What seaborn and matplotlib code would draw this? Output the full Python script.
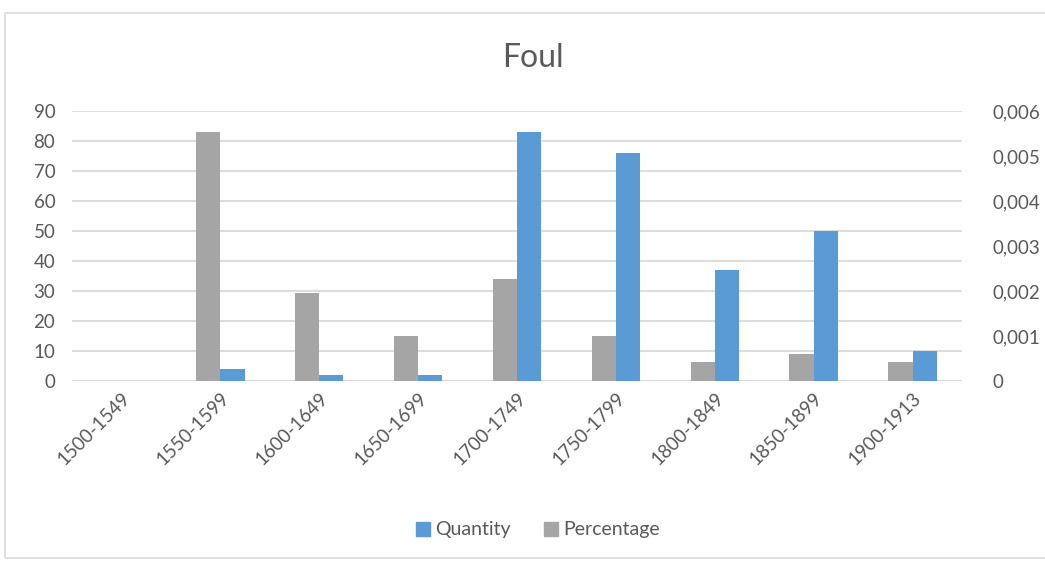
import numpy as np
import pandas as pd
import matplotlib
matplotlib.use("Agg")
import matplotlib.pyplot as plt
from matplotlib.patches import Patch, Rectangle
from matplotlib.ticker import FuncFormatter
import seaborn as sns

periods = ["1500-1549", "1550-1599", "1600-1649", "1650-1699", "1700-1749",
           "1750-1799", "1800-1849", "1850-1899", "1900-1913"]
quantity = [0, 4, 2, 2, 83, 76, 37, 50, 10]
percentage = [0, 0.00553, 0.00196, 0.00101, 0.00226, 0.00101, 0.00042, 0.00060, 0.00042]

BLUE = "#5B9BD5"
GRAY = "#A5A5A5"
TXT = "#595959"
GRID = "#D9D9D9"

sns.set_style("white")
plt.rcParams["font.family"] = ["Lato", "DejaVu Sans"]

# each axis gets both hue levels so the dodge slots line up; the other series is 0 there
df = pd.concat([
    pd.DataFrame({"period": periods, "series": "Percentage",
                  "q": 0.0, "p": percentage}),
    pd.DataFrame({"period": periods, "series": "Quantity",
                  "q": quantity, "p": 0.0}),
])
order = ["Percentage", "Quantity"]
pal = {"Percentage": GRAY, "Quantity": BLUE}

fig = plt.figure(figsize=(10.45, 5.62), dpi=100)
ax = fig.add_axes([72 / 1045, 1 - 381 / 562, 890 / 1045, 270 / 562])
ax2 = ax.twinx()

sns.barplot(data=df, x="period", y="q", hue="series", hue_order=order,
            palette=pal, width=0.49, dodge=True, ax=ax, legend=False,
            linewidth=0, errorbar=None, saturation=1)
sns.barplot(data=df, x="period", y="p", hue="series", hue_order=order,
            palette=pal, width=0.49, dodge=True, ax=ax2, legend=False,
            linewidth=0, errorbar=None, saturation=1)

ax.set_ylim(0, 90)
ax.set_yticks(range(0, 91, 10))
ax2.set_ylim(0, 0.006)
ax2.set_yticks(np.linspace(0, 0.006, 7))
ax2.yaxis.set_major_formatter(FuncFormatter(
    lambda v, _: "0" if abs(v) < 1e-12 else f"{v:.3f}".replace(".", ",")))

ax.set_zorder(ax2.get_zorder() + 1)
ax.patch.set_visible(False)
ax2.set_axisbelow(True)
ax2.yaxis.grid(False)
for y in range(10, 91, 10):
    ax2.axhline(y / 15000, color=GRID, lw=1.3, zorder=0)
ax2.axhline(0, color=GRID, lw=1.6, zorder=0)

for a in (ax, ax2):
    for s in a.spines.values():
        s.set_visible(False)
    a.set_xlabel("")
    a.set_ylabel("")
    a.tick_params(length=0, labelsize=13.5, labelcolor=TXT)
ax.tick_params(axis="y", pad=12)
ax2.tick_params(axis="y", pad=22)

ax.set_xticks(range(len(periods)))
ax.set_xticklabels(periods, rotation=45, ha="right", rotation_mode="anchor",
                   fontsize=13.5, color=TXT)
ax.tick_params(axis="x", pad=6)
ax.set_xlim(-0.5, len(periods) - 0.5)

fig.text(0.51, 1 - 58 / 562, "Foul", ha="center", va="center",
         fontsize=23, color=TXT)

handles = [Patch(color=BLUE, label="Quantity"), Patch(color=GRAY, label="Percentage")]
fig.legend(handles=handles, loc="center", bbox_to_anchor=(0.515, 1 - 530 / 562),
           ncol=2, frameon=False, fontsize=14, labelcolor=TXT,
           handlelength=0.7, handleheight=0.7, handletextpad=0.3, columnspacing=1.7)

fig.patches.append(Rectangle((5 / 1045, 1 - 558 / 562), 1.1, 545 / 562,
                             transform=fig.transFigure, fill=False,
                             edgecolor=GRID, lw=1.2))

fig.savefig("out.png", dpi=100)
